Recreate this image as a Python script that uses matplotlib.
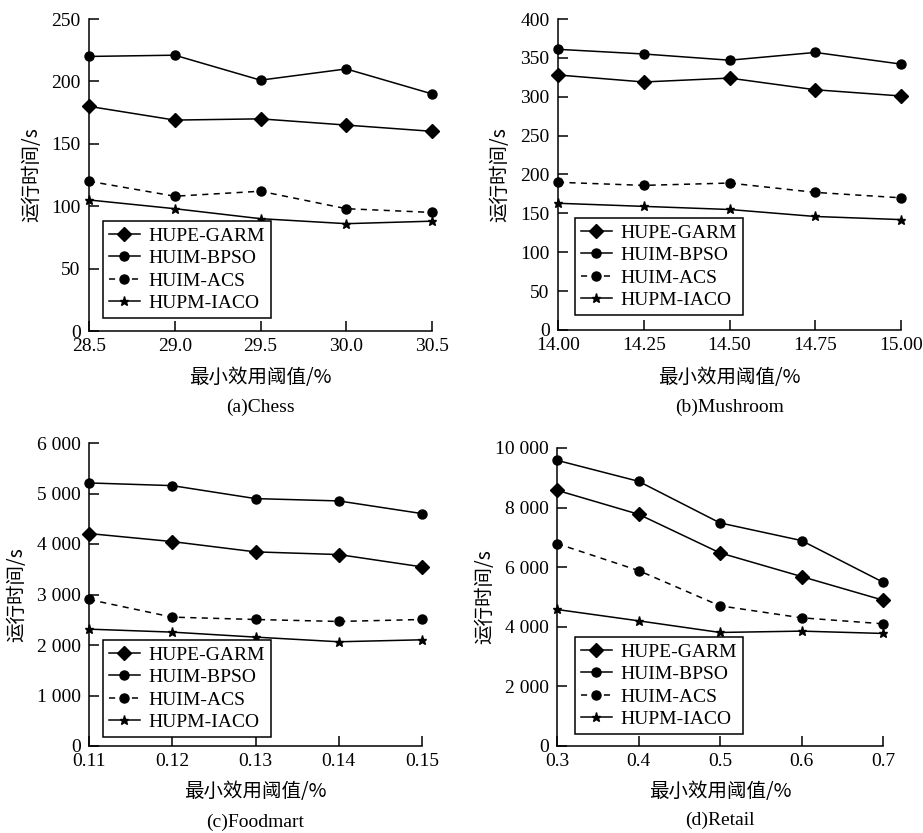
import matplotlib
matplotlib.use("Agg")
import matplotlib.pyplot as plt
from matplotlib.ticker import FuncFormatter, FixedLocator

plt.rcParams['font.family'] = ['Liberation Serif', 'Noto Sans CJK SC', 'DejaVu Sans']

series_names = ["HUPE-GARM", "HUIM-BPSO", "HUIM-ACS", "HUPM-IACO"]

# (a) Chess
chess_x = [28.5, 29.0, 29.5, 30.0, 30.5]
chess_garm = [180, 169, 170, 165, 160]
chess_bpso = [220, 221, 201, 210, 190]
chess_acs = [120, 108, 112, 98, 95]
chess_iaco = [105, 98, 90, 86, 88]

# (b) Mushroom
mush_x = [14.00, 14.25, 14.50, 14.75, 15.00]
mush_garm = [328, 319, 324, 309, 301]
mush_bpso = [361, 355, 347, 357, 342]
mush_acs = [190, 186, 189, 177, 170]
mush_iaco = [163, 159, 155, 146, 142]

# (c) Foodmart
food_x = [0.11, 0.12, 0.13, 0.14, 0.15]
food_garm = [4207, 4048, 3844, 3791, 3547]
food_bpso = [5209, 5156, 4899, 4853, 4602]
food_acs = [2901, 2552, 2505, 2466, 2505]
food_iaco = [2314, 2255, 2156, 2064, 2103]

# (d) Retail
retail_x = [0.3, 0.4, 0.5, 0.6, 0.7]
retail_garm = [8581, 7777, 6480, 5687, 4894]
retail_bpso = [9587, 8883, 7486, 6894, 5497]
retail_acs = [6793, 5888, 4704, 4302, 4101]
retail_iaco = [4581, 4201, 3810, 3855, 3777]

chess_yticks = [0, 50, 100, 150, 200, 250]
mush_yticks = [0, 50, 100, 150, 200, 250, 300, 350, 400]
food_yticks = [0, 1000, 2000, 3000, 4000, 5000, 6000]
retail_yticks = [0, 2000, 4000, 6000, 8000, 10000]

xlabel_text = "最小效用阈值/%"
ylabel_text = "运行时间/s"
captions = ["(a)Chess", "(b)Mushroom", "(c)Foodmart", "(d)Retail"]

W, H = 923, 833
fig = plt.figure(figsize=(W / 100, H / 100), dpi=100)

def px_axes(left, right, top, bottom):
    return fig.add_axes([left / W, 1 - bottom / H, (right - left) / W, (bottom - top) / H])

def fmt_thousands(v, pos):
    s = f"{int(round(v)):,}"
    return s.replace(",", " ")

panels = [
    dict(box=(89, 432, 19, 331), x=chess_x, ys=[chess_garm, chess_bpso, chess_acs, chess_iaco],
         yt=chess_yticks, xfmt="{:.1f}", ylab_dx=-57, leg=(14, 13), xl=-47, cap=-76),
    dict(box=(558, 901, 19, 330), x=mush_x, ys=[mush_garm, mush_bpso, mush_acs, mush_iaco],
         yt=mush_yticks, xfmt="{:.2f}", ylab_dx=-58, leg=(17, 15), xl=-48, cap=-77),
    dict(box=(89, 422, 443, 746), x=food_x, ys=[food_garm, food_bpso, food_acs, food_iaco],
         yt=food_yticks, xfmt="{:.2f}", ylab_dx=-72, leg=(14, 9), xl=-46, cap=-76),
    dict(box=(557, 883, 448, 746), x=retail_x, ys=[retail_garm, retail_bpso, retail_acs, retail_iaco],
         yt=retail_yticks, xfmt="{:.1f}", ylab_dx=-72, leg=(18, 12), xl=-46, cap=-74),
]

styles = [
    dict(marker='D', markersize=7, linestyle='-'),
    dict(marker='o', markersize=6.5, linestyle='-'),
    dict(marker='o', markersize=6.5, linestyle=(0, (4, 3.5))),
    dict(marker='*', markersize=6.5, linestyle='-'),
]

cjk = ['Noto Sans CJK SC', 'DejaVu Sans']

for i, p in enumerate(panels):
    l, r, t, b = p['box']
    ax = px_axes(l, r, t, b)
    wpx, hpx = r - l, b - t
    for name, ys, st in zip(series_names, p['ys'], styles):
        ax.plot(p['x'], ys, color='black', linewidth=1.1, label=name,
                markerfacecolor='black', markeredgecolor='black', clip_on=False, **st)
    ax.set_xlim(p['x'][0], p['x'][-1])
    ax.set_ylim(p['yt'][0], p['yt'][-1])
    ax.xaxis.set_major_locator(FixedLocator(p['x']))
    ax.yaxis.set_major_locator(FixedLocator(p['yt']))
    xf = p['xfmt']
    ax.xaxis.set_major_formatter(FuncFormatter(lambda v, pos, xf=xf: xf.format(v)))
    ax.yaxis.set_major_formatter(FuncFormatter(fmt_thousands))
    ax.spines['top'].set_visible(False)
    ax.spines['right'].set_visible(False)
    for s in ('left', 'bottom'):
        ax.spines[s].set_linewidth(1.1)
    ax.tick_params(axis='both', direction='in', length=7, width=1.1, labelsize=14, colors='black')
    ax.tick_params(axis='y', pad=6)
    ax.tick_params(axis='x', pad=5)
    ax.set_ylabel(ylabel_text, fontsize=14, family=cjk, va='center')
    ax.yaxis.set_label_coords(p['ylab_dx'] / wpx, 0.5)
    ax.set_xlabel(xlabel_text, fontsize=14, family=cjk, va='center')
    ax.xaxis.set_label_coords(0.5, p['xl'] / hpx)
    ax.text(0.5, p['cap'] / hpx, captions[i], transform=ax.transAxes, ha='center', va='center',
            fontsize=14, family='Liberation Serif')
    lx, ly = p['leg']
    leg = ax.legend(loc='lower left', bbox_to_anchor=(lx / wpx, ly / hpx), borderaxespad=0,
                    numpoints=1, handlelength=1.6, handletextpad=0.45,
                    labelspacing=0.25, borderpad=0.3,
                    fancybox=False, framealpha=1,
                    edgecolor='black', prop={'family': 'Liberation Serif', 'size': 14})
    leg.get_frame().set_linewidth(1.1)

fig.savefig("out.png", dpi=100)
